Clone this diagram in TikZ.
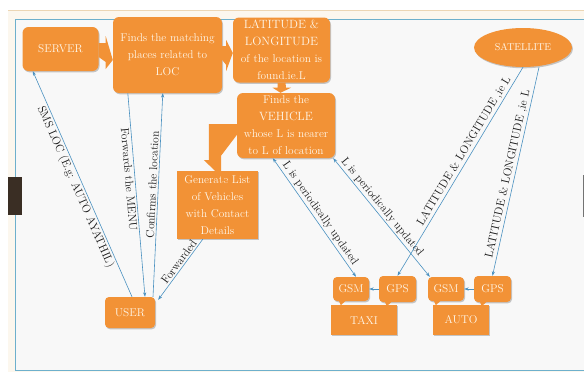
\documentclass[tikz,border=0pt]{standalone}
\usetikzlibrary{arrows.meta,shapes.geometric,shadows,calc}
\definecolor{org}{RGB}{242,146,54}
\definecolor{txtc}{RGB}{255,246,232}
\definecolor{conc}{RGB}{74,145,192}
\definecolor{labc}{RGB}{25,25,25}
\definecolor{creamc}{RGB}{252,247,238}
\definecolor{tanc}{RGB}{236,214,180}
\definecolor{slidec}{RGB}{248,248,248}
\definecolor{framec}{RGB}{110,176,204}
\definecolor{tabc}{RGB}{58,46,36}
\newcommand\capsz[1]{{\fontsize{12}{17}\selectfont #1}}
\begin{document}
\begin{tikzpicture}[x=1pt,y=-1pt,
  shad/.style={drop shadow={shadow xshift=1pt,shadow yshift=-1.3pt,opacity=.3,fill=black!70}},
  box/.style={shad,fill=org,text=txtc,rounded corners=6pt,align=center,inner sep=1pt,
    font=\fontsize{11.3}{17}\selectfont},
  sqbox/.style={box,rounded corners=0pt},
  tag/.style={box,rounded corners=4pt},
  con/.style={draw=conc,line width=0.6pt},
  tip/.style={-{Stealth[length=4.5pt,width=3.2pt]}},
  dtip/.style={{Stealth[length=4.5pt,width=3.2pt]}-{Stealth[length=4.5pt,width=3.2pt]}},
  lab/.style={text=labc,font=\fontsize{11.5}{13}\selectfont,inner sep=1.5pt},
  blk/.style={fill=org}
]
\useasboundingbox (0,0) rectangle (584,372);
% page background
\fill[white] (0,0) rectangle (584,372);
\fill[creamc] (8,10) rectangle (584,372);
\draw[tanc,line width=1pt] (8,10.5) -- (584,10.5);
\fill[slidec] (15,19) rectangle (584,370);
\draw[framec,line width=0.8pt] (584,19) -- (15,19) -- (15,370) -- (584,370);
\fill[tabc] (8,177) rectangle (22,215);
\fill[black!55] (582.5,175) rectangle (584,217);

% nodes
\node[box,minimum width=76pt,minimum height=44pt] (server) at (60.5,49) {SERVER};
\node[box,minimum width=109pt,minimum height=76pt] (match) at (167.5,55)
  {Finds the matching\\places related to\\LOC};
\node[box,minimum width=97pt,minimum height=65pt] (lat) at (281.5,50)
  {\capsz{LATITUDE \&}\\\capsz{LONGITUDE}\\of the location is\\found.ie.L};
\node[box,minimum width=98pt,minimum height=65pt] (veh) at (286,125.5)
  {Finds the\\\capsz{VEHICLE}\\whose L is nearer\\to L of location};
\node[sqbox,minimum width=81pt,minimum height=68pt] (gen) at (217.5,205)
  {Generate List\\of Vehicles\\with Contact\\Details};
\node[box,rounded corners=4pt,minimum width=50pt,minimum height=31pt] (user) at (130,312.5) {USER};
\node[ellipse,shad,fill=org,text=txtc,inner sep=0pt,minimum width=98pt,minimum height=39pt,
  font=\fontsize{10}{12}\selectfont] (sat) at (523,47.5) {SATELLITE};

\node[sqbox,minimum width=66pt,minimum height=30pt] (taxi) at (364,320) {TAXI};
\node[sqbox,minimum width=56pt,minimum height=30pt] (auto) at (461,320) {AUTO};
\node[tag,minimum width=36pt,minimum height=24pt] (gsmt) at (351,289) {GSM};
\node[tag,minimum width=37pt,minimum height=26pt] (gpst) at (397.5,289) {GPS};
\node[tag,minimum width=36pt,minimum height=24pt] (gsma) at (446,289) {GSM};
\node[tag,minimum width=37pt,minimum height=26pt] (gpsa) at (492.5,289) {GPS};
% callout pointers
\foreach \n in {gsmt,gpst,gsma,gpsa}{
  \fill[org] ([xshift=6pt,yshift=0.5pt]\n.south west) -- ([xshift=13pt,yshift=0.5pt]\n.south west)
    -- ([xshift=8pt,yshift=-4pt]\n.south west) -- cycle;
}

% block arrows
\fill[blk] ([yshift=6pt]server.east) -- ++(7,0) -- ++(0,-7) -- ([yshift=-5pt]match.west)
  -- ([xshift=7pt,yshift=-20pt]server.east) -- ++(0,-7) -- ([yshift=-8pt]server.east) -- cycle;
\fill[blk] ([yshift=9pt]match.east) -- ++(4,0) -- ++(0,-6) -- ([yshift=-3pt]lat.west)
  -- ([xshift=4pt,yshift=-16pt]match.east) -- ++(0,-6) -- ([yshift=-5pt]match.east) -- cycle;
\fill[blk] ([xshift=-4pt]lat.south) -- ++(0,5) -- ++(-5,0) -- ([xshift=-5.5pt]veh.north)
  -- ([xshift=9.5pt,yshift=-5pt]lat.south) -- ++(-5,0) -- ([xshift=4pt]lat.south) -- cycle;
\fill[blk] ([yshift=1.5pt]veh.west) -- ++(-28,0) -- ++(0,36) -- ++(-5,0)
  -- ([xshift=-2.5pt]gen.north) -- ++(11,10) -- ++(-5,0) -- ++(0,-25) -- ([yshift=-9.5pt]veh.west) -- cycle;

% connectors
\draw[con,tip] ([xshift=2pt]user.north) --
  node[lab,sloped,below,pos=.5] {SMS LOC (E.g: AUTO AYATHIL)} ([xshift=10.5pt]server.south west);
\draw[con,tip] ([xshift=15pt]match.south west) --
  node[lab,sloped,below,pos=.42] {Forwards the MENU} ([xshift=15pt]user.north);
\draw[con,tip] ([xshift=23pt]user.north) --
  node[lab,sloped,above,pos=.55] {Confirms the location} ([xshift=50pt]match.south west);
\draw[con,tip] ([xshift=26pt]gen.south west) --
  node[lab,sloped,above,pos=.43] {Forwarded} ([xshift=3pt,yshift=-3pt]user.north east);
\draw[con,dtip] ([xshift=36pt]veh.south west) --
  node[lab,sloped,above,pos=.5] {L is periodically updated} ([xshift=5pt]gsmt.north);
\draw[con,dtip] ([xshift=-2pt]veh.south east) --
  node[lab,sloped,above,pos=.45] {L is periodically updated} ([xshift=2pt]gsma.north west);
\draw[con,tip] (sat.south) --
  node[lab,sloped,above,pos=.42] {LATITUDE \& LONGITUDE ,ie L} (gpst.north);
\draw[con,tip] ([xshift=16pt]sat.south) --
  node[lab,sloped,above,pos=.52] {LATITUDE \& LONGITUDE ,ie L} (gpsa.north);
\draw[con,tip] (gpst.west) -- (gsmt.east);
\draw[con,tip] (gpsa.west) -- (gsma.east);
\end{tikzpicture}
\end{document}
